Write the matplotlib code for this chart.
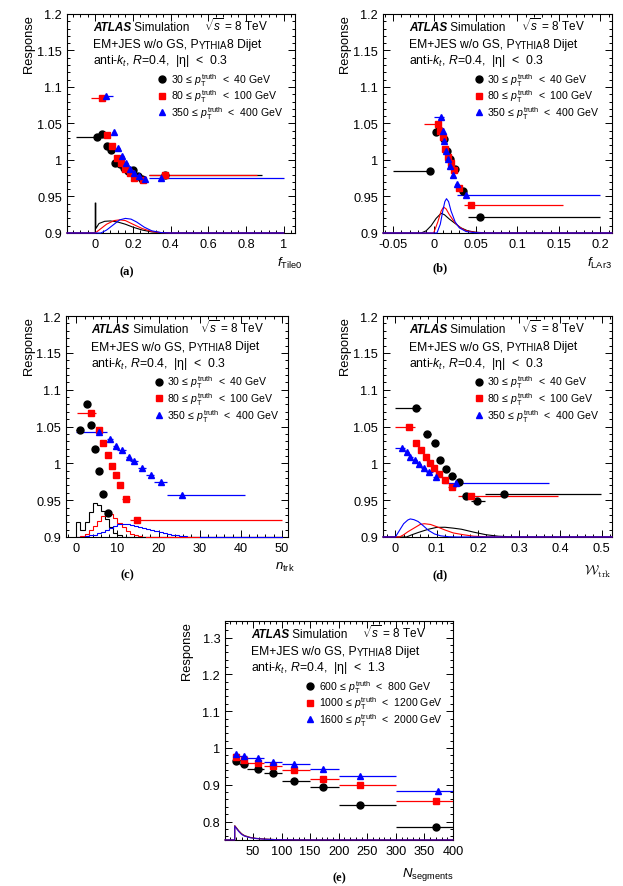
# -*- coding: utf-8 -*-

import matplotlib
matplotlib.use("Agg")
import matplotlib.pyplot as plt
from matplotlib.ticker import MultipleLocator, AutoMinorLocator, FuncFormatter

plt.rcParams["font.family"] = "Liberation Sans"
plt.rcParams["mathtext.fontset"] = "custom"
plt.rcParams["mathtext.rm"] = "Liberation Sans"
plt.rcParams["mathtext.it"] = "Liberation Sans:italic"
plt.rcParams["mathtext.bf"] = "Liberation Sans:bold"

# ---------------- (a) f_Tile0 ----------------
a_black_x = [0.008, 0.035, 0.06, 0.083, 0.105, 0.13, 0.152, 0.175, 0.2, 0.225, 0.25, 0.37]
a_black_y = [1.032, 1.0355, 1.019, 1.0135, 0.9955, 0.995, 0.989, 0.985, 0.986, 0.978, 0.974, 0.979]
a_black_lo = [-0.1, 0.025, 0.05, 0.073, 0.095, 0.12, 0.142, 0.165, 0.19, 0.215, 0.24, 0.283]
a_black_hi = [0.015, 0.045, 0.07, 0.093, 0.115, 0.14, 0.162, 0.185, 0.21, 0.235, 0.26, 0.885]
a_red_x = [0.035, 0.065, 0.09, 0.115, 0.135, 0.158, 0.182, 0.208, 0.255, 0.368]
a_red_y = [1.0855, 1.034, 1.019, 1.003, 0.996, 0.988, 0.982, 0.976, 0.973, 0.98]
a_red_lo = [-0.02, 0.055, 0.08, 0.105, 0.125, 0.148, 0.172, 0.198, 0.245, 0.283]
a_red_hi = [0.05, 0.075, 0.1, 0.125, 0.145, 0.168, 0.192, 0.218, 0.265, 0.86]
a_blue_x = [0.058, 0.097, 0.119, 0.142, 0.163, 0.182, 0.204, 0.23, 0.262, 0.35]
a_blue_y = [1.087, 1.038, 1.017, 1.005, 0.996, 0.988, 0.982, 0.978, 0.974, 0.975]
a_blue_lo = [0.03, 0.087, 0.109, 0.132, 0.153, 0.172, 0.194, 0.22, 0.252, 0.283]
a_blue_hi = [0.095, 0.107, 0.129, 0.152, 0.173, 0.192, 0.214, 0.24, 0.272, 1.0]
# normalised distributions drawn at the bottom
a_dist_black_x = [-0.15, 0.0, 0.0, 0.003, 0.003, 0.02, 0.05, 0.08, 0.12, 0.16, 0.2, 0.25, 0.3, 0.35, 0.4, 1.0]
a_dist_black_y = [0.9, 0.9, 0.941, 0.941, 0.906, 0.913, 0.916, 0.9165, 0.915, 0.912, 0.908, 0.904, 0.9015, 0.9005, 0.9, 0.9]
a_dist_red_x = [-0.15, 0.0, 0.03, 0.06, 0.1, 0.13, 0.16, 0.2, 0.25, 0.3, 0.35, 0.4, 1.0]
a_dist_red_y = [0.9, 0.9, 0.906, 0.912, 0.917, 0.918, 0.917, 0.912, 0.906, 0.902, 0.9005, 0.9, 0.9]
a_dist_blue_x = [-0.15, 0.03, 0.06, 0.1, 0.13, 0.16, 0.19, 0.22, 0.26, 0.3, 0.35, 0.4, 1.0]
a_dist_blue_y = [0.9, 0.9, 0.904, 0.912, 0.918, 0.92, 0.919, 0.915, 0.908, 0.903, 0.9005, 0.9, 0.9]

# ---------------- (b) f_LAr3 ----------------
b_black_x = [-0.005, 0.002, 0.006, 0.011, 0.015, 0.019, 0.025, 0.034, 0.055]
b_black_y = [0.985, 1.038, 1.041, 1.029, 1.012, 1.002, 0.987, 0.958, 0.922]
b_black_lo = [-0.05, 0.0, 0.004, 0.009, 0.013, 0.017, 0.023, 0.031, 0.04]
b_black_hi = [-0.002, 0.004, 0.008, 0.013, 0.017, 0.021, 0.027, 0.037, 0.2]
b_red_x = [0.004, 0.007, 0.010, 0.013, 0.016, 0.020, 0.024, 0.029, 0.044]
b_red_y = [1.049, 1.040, 1.032, 1.015, 1.004, 0.996, 0.986, 0.962, 0.939]
b_red_lo = [-0.013, 0.005, 0.008, 0.011, 0.014, 0.018, 0.022, 0.027, 0.035]
b_red_hi = [0.006, 0.009, 0.012, 0.015, 0.018, 0.022, 0.026, 0.031, 0.155]
b_blue_x = [0.008, 0.010, 0.012, 0.014, 0.016, 0.019, 0.022, 0.027, 0.038]
b_blue_y = [1.059, 1.040, 1.026, 1.013, 1.002, 0.992, 0.980, 0.967, 0.952]
b_blue_lo = [0.0, 0.009, 0.011, 0.013, 0.015, 0.018, 0.021, 0.025, 0.027]
b_blue_hi = [0.011, 0.011, 0.013, 0.015, 0.017, 0.020, 0.023, 0.029, 0.2]
b_dist_black_x = [-0.062, -0.016, -0.01, -0.004, 0.002, 0.008, 0.012, 0.018, 0.025, 0.032, 0.04, 0.05, 0.065, 0.214]
b_dist_black_y = [0.9, 0.9, 0.903, 0.91, 0.92, 0.927, 0.925, 0.919, 0.913, 0.907, 0.903, 0.901, 0.9, 0.9]
b_dist_red_x = [-0.062, -0.001, 0.004, 0.008, 0.011, 0.014, 0.018, 0.024, 0.03, 0.038, 0.048, 0.06, 0.214]
b_dist_red_y = [0.9, 0.9, 0.915, 0.93, 0.9355, 0.933, 0.925, 0.915, 0.908, 0.903, 0.901, 0.9, 0.9]
b_dist_blue_x = [-0.062, 0.003, 0.007, 0.010, 0.0125, 0.0145, 0.017, 0.02, 0.025, 0.03, 0.038, 0.048, 0.06, 0.214]
b_dist_blue_y = [0.9, 0.9, 0.912, 0.93, 0.943, 0.947, 0.943, 0.93, 0.915, 0.907, 0.902, 0.9005, 0.9, 0.9]

# ---------------- (c) n_trk ----------------
c_black_x = [0.8, 2.6, 3.6, 4.6, 5.6, 6.6, 7.7]
c_black_y = [1.0455, 1.08, 1.052, 1.019, 0.99, 0.959, 0.932]
c_black_lo = [0.0, 2.0, 3.0, 4.0, 5.0, 6.0, 7.0]
c_black_hi = [1.5, 3.0, 4.0, 5.0, 6.0, 7.0, 8.0]
c_red_x = [3.6, 5.6, 6.6, 7.7, 8.6, 9.7, 10.6, 12.1, 14.7]
c_red_y = [1.069, 1.045, 1.027, 1.011, 0.997, 0.984, 0.970, 0.952, 0.923]
c_red_lo = [0.2, 5.0, 6.0, 7.0, 8.0, 9.0, 10.0, 11.0, 13.0]
c_red_hi = [4.9, 6.0, 7.0, 8.0, 9.0, 10.0, 11.0, 13.0, 50.0]
c_blue_x = [5.4, 8.2, 9.6, 11.0, 12.7, 14.0, 16.0, 18.1, 20.5, 25.6]
c_blue_y = [1.043, 1.033, 1.024, 1.018, 1.009, 1.003, 0.993, 0.984, 0.975, 0.957]
c_blue_lo = [0.0, 7.5, 9.0, 10.0, 12.0, 13.0, 15.0, 17.0, 19.0, 22.0]
c_blue_hi = [7.5, 9.0, 10.0, 12.0, 13.0, 15.0, 17.0, 19.0, 22.0, 41.0]
# step histograms, unit bins starting at 0
c_hist_black = [0.92, 0.91, 0.921, 0.934, 0.946, 0.943, 0.935, 0.925, 0.914, 0.906, 0.902, 0.9]
c_hist_red = [0.9, 0.901, 0.904, 0.909, 0.915, 0.922, 0.929, 0.932, 0.931, 0.926, 0.919, 0.913,
              0.908, 0.904, 0.902, 0.901, 0.9]
c_hist_blue = [0.9, 0.9005, 0.901, 0.902, 0.903, 0.905, 0.907, 0.909, 0.912, 0.915, 0.917, 0.9175,
               0.917, 0.9165, 0.9155, 0.914, 0.9125, 0.911, 0.9095, 0.908, 0.9065, 0.905, 0.904,
               0.903, 0.902, 0.9013, 0.9008, 0.9005, 0.9002, 0.9]

# ---------------- (d) W_trk ----------------
d_black_x = [0.049, 0.077, 0.095, 0.109, 0.123, 0.138, 0.154, 0.17, 0.198, 0.263]
d_black_y = [1.075, 1.04, 1.027, 1.0045, 0.992, 0.983, 0.975, 0.955, 0.949, 0.959]
d_black_lo = [0.0, 0.067, 0.087, 0.101, 0.116, 0.131, 0.146, 0.162, 0.184, 0.217]
d_black_hi = [0.063, 0.087, 0.101, 0.116, 0.131, 0.146, 0.162, 0.184, 0.216, 0.498]
d_red_x = [0.032, 0.051, 0.063, 0.073, 0.083, 0.093, 0.106, 0.119, 0.137, 0.184]
d_red_y = [1.049, 1.028, 1.018, 1.0086, 1.001, 0.993, 0.985, 0.978, 0.968, 0.955]
d_red_lo = [0.0, 0.047, 0.058, 0.068, 0.078, 0.088, 0.1, 0.113, 0.128, 0.152]
d_red_hi = [0.047, 0.058, 0.068, 0.078, 0.088, 0.1, 0.113, 0.128, 0.146, 0.394]
d_blue_x = [0.016, 0.028, 0.036, 0.047, 0.057, 0.069, 0.081, 0.099, 0.148]
d_blue_y = [1.021, 1.015, 1.009, 1.004, 0.9985, 0.993, 0.988, 0.982, 0.973]
d_blue_lo = [0.0, 0.024, 0.032, 0.042, 0.052, 0.063, 0.075, 0.09, 0.115]
d_blue_hi = [0.024, 0.032, 0.042, 0.052, 0.063, 0.075, 0.09, 0.108, 0.373]
d_dist_black_x = [-0.03, 0.027, 0.04, 0.055, 0.08, 0.1, 0.12, 0.14, 0.16, 0.19, 0.22, 0.25, 0.29, 0.525]
d_dist_black_y = [0.9, 0.9, 0.903, 0.906, 0.9105, 0.913, 0.9132, 0.912, 0.9105, 0.9065, 0.903, 0.901, 0.9, 0.9]
d_dist_red_x = [-0.03, 0.01, 0.02, 0.03, 0.045, 0.06, 0.07, 0.085, 0.1, 0.12, 0.14, 0.165, 0.19, 0.22, 0.26, 0.525]
d_dist_red_y = [0.9, 0.9, 0.903, 0.907, 0.912, 0.917, 0.918, 0.917, 0.914, 0.9095, 0.9055, 0.903, 0.901, 0.9003, 0.9, 0.9]
d_dist_blue_x = [-0.03, 0.0, 0.01, 0.02, 0.03, 0.036, 0.045, 0.055, 0.067, 0.08, 0.095, 0.11, 0.13, 0.15, 0.525]
d_dist_blue_y = [0.9, 0.9, 0.909, 0.918, 0.923, 0.9245, 0.9235, 0.921, 0.9155, 0.909, 0.904, 0.9015, 0.9003, 0.9, 0.9]

# ---------------- (e) N_segments ----------------
e_lo = [15, 25, 40, 70, 100, 150, 200, 300]
e_hi = [25, 40, 70, 100, 150, 200, 300, 400]
e_black_x = [20.6, 34, 58.8, 85.3, 121.8, 171.8, 238, 370.6]
e_black_y = [0.965, 0.957, 0.942, 0.932, 0.911, 0.893, 0.846, 0.786]
e_red_x = [20.6, 34, 58.8, 85.3, 121.8, 171.8, 238, 369.4]
e_red_y = [0.975, 0.967, 0.958, 0.9505, 0.939, 0.9156, 0.9, 0.855]
e_blue_x = [20.6, 34, 58.8, 85.3, 121.8, 171.8, 238, 373.5]
e_blue_y = [0.9826, 0.979, 0.9716, 0.962, 0.956, 0.942, 0.923, 0.882]
e_dist_x = [1, 18, 18, 20, 25, 30, 35, 45, 55, 70, 90, 120, 160, 400]
e_dist_black_y = [0.75, 0.75, 0.789, 0.785, 0.775, 0.767, 0.762, 0.757, 0.7545, 0.7525, 0.751, 0.7503, 0.75, 0.75]
e_dist_red_y = [0.75, 0.75, 0.788, 0.784, 0.774, 0.766, 0.761, 0.7565, 0.754, 0.7522, 0.751, 0.7503, 0.75, 0.75]
e_dist_blue_y = [0.75, 0.75, 0.787, 0.783, 0.773, 0.765, 0.7605, 0.756, 0.7538, 0.752, 0.7508, 0.7502, 0.75, 0.75]

low_labels = [("30", "40"), ("80", "100"), ("350", "400")]
high_labels = [("600", "800"), ("1000", "1200"), ("1600", "2000")]

BLACK = "black"
RED = "#ff0000"
BLUE = "#0000ff"
MARKERS = [("o", BLACK, 5.0), ("s", RED, 4.8), ("^", BLUE, 4.8)]


def style_axes(ax, xlim, ylim, xmajor, ymajor):
    ax.set_xlim(xlim)
    ax.set_ylim(ylim)
    ax.xaxis.set_major_locator(MultipleLocator(xmajor))
    ax.yaxis.set_major_locator(MultipleLocator(ymajor))
    ax.xaxis.set_minor_locator(AutoMinorLocator(5))
    ax.yaxis.set_minor_locator(AutoMinorLocator(5))
    fmt = FuncFormatter(lambda v, p: "%g" % round(v, 6))
    ax.xaxis.set_major_formatter(fmt)
    ax.yaxis.set_major_formatter(fmt)
    ax.tick_params(which="both", direction="in", top=True, right=True, labelsize=9.2, width=0.7)
    ax.tick_params(which="major", length=5, pad=3.5)
    ax.tick_params(which="minor", length=2.5)
    for s in ax.spines.values():
        s.set_linewidth(0.8)
    ax.text(-0.165, 1.0, "Response", transform=ax.transAxes, rotation=90,
            ha="center", va="top", fontsize=9.3)


def draw_points(ax, series):
    for (x, y, lo, hi), (m, c, ms) in zip(series, MARKERS):
        xerr = [[xi - l for xi, l in zip(x, lo)], [h - xi for xi, h in zip(x, hi)]]
        ax.errorbar(x, y, xerr=xerr, fmt=m, color=c, ms=ms, elinewidth=0.9,
                    capsize=0, zorder=4)


def draw_text(ax, eta, labels, mx=0.418, tx=0.455):
    t = ax.text(0.114, 0.927, "ATLAS", transform=ax.transAxes, fontsize=8.5,
                fontweight="bold", fontstyle="italic", va="baseline")
    ax.annotate(" Simulation", xy=(1, 0), xycoords=t, va="bottom", fontsize=8.5)
    ax.text(0.602, 0.927, r"$\sqrt{s}$ = 8 TeV", transform=ax.transAxes,
            fontsize=8.5, va="baseline")
    t = ax.text(0.114, 0.851, "EM+JES w/o GS, P", transform=ax.transAxes,
                fontsize=8.7, va="baseline")
    t = ax.annotate("YTHIA", xy=(1, 0), xycoords=t, va="bottom", fontsize=7.0)
    ax.annotate("8 Dijet", xy=(1, 0), xycoords=t, va="bottom", fontsize=8.7)
    ax.text(0.114, 0.776, r"anti-$k_{t}$, $R$=0.4,  |η|  <  " + eta,
            transform=ax.transAxes, fontsize=8.8, va="baseline")
    rows = [0.703, 0.627, 0.551]
    for (lo, hi), (m, c, ms), yr in zip(labels, MARKERS, rows):
        ax.plot([mx], [yr], m, color=c, ms=ms, transform=ax.transAxes, clip_on=False)
        ax.text(tx, yr - 0.016,
                lo + r"$\,\leq\,p_{\mathrm{T}}^{\mathrm{truth}}$  <  " + hi + " GeV",
                transform=ax.transAxes, fontsize=7.6, va="baseline")


fig = plt.figure(figsize=(6.23, 8.87), dpi=100)
ax_a = fig.add_axes([0.1075, 0.7362, 0.366, 0.2469])
ax_b = fig.add_axes([0.6148, 0.7362, 0.3676, 0.2469])
ax_c = fig.add_axes([0.106, 0.3935, 0.3563, 0.249])
ax_d = fig.add_axes([0.6148, 0.3935, 0.3676, 0.249])
ax_e = fig.add_axes([0.3612, 0.0519, 0.366, 0.2469])

# (a)
style_axes(ax_a, (-0.15, 1.06), (0.9, 1.2), 0.2, 0.05)
for x, y, c in [(a_dist_black_x, a_dist_black_y, BLACK), (a_dist_red_x, a_dist_red_y, RED),
                (a_dist_blue_x, a_dist_blue_y, BLUE)]:
    ax_a.plot(x, y, color=c, lw=0.8, clip_on=False, zorder=3)
draw_points(ax_a, [(a_black_x, a_black_y, a_black_lo, a_black_hi),
                   (a_red_x, a_red_y, a_red_lo, a_red_hi),
                   (a_blue_x, a_blue_y, a_blue_lo, a_blue_hi)])
draw_text(ax_a, "0.3", low_labels)
ax_a.text(1.035, -0.135, r"$f_{\mathrm{Tile0}}$", transform=ax_a.transAxes,
          ha="right", va="center", fontsize=9.5)

# (b)
style_axes(ax_b, (-0.062, 0.214), (0.9, 1.2), 0.05, 0.05)
for x, y, c in [(b_dist_black_x, b_dist_black_y, BLACK), (b_dist_red_x, b_dist_red_y, RED),
                (b_dist_blue_x, b_dist_blue_y, BLUE)]:
    ax_b.plot(x, y, color=c, lw=0.8, clip_on=False, zorder=3)
draw_points(ax_b, [(b_black_x, b_black_y, b_black_lo, b_black_hi),
                   (b_red_x, b_red_y, b_red_lo, b_red_hi),
                   (b_blue_x, b_blue_y, b_blue_lo, b_blue_hi)])
draw_text(ax_b, "0.3", low_labels)
ax_b.text(1.0, -0.135, r"$f_{\mathrm{LAr3}}$", transform=ax_b.transAxes,
          ha="right", va="center", fontsize=9.5)

# (c)
style_axes(ax_c, (-2.5, 51.5), (0.9, 1.2), 10, 0.05)
for vals, c in [(c_hist_black, BLACK), (c_hist_red, RED), (c_hist_blue, BLUE)]:
    edges = list(range(len(vals) + 1))
    ax_c.stairs(vals, edges, baseline=0.9, color=c, lw=0.8, zorder=3)
    ax_c.plot([edges[-1], 50], [0.9, 0.9], color=c, lw=0.8, clip_on=False, zorder=3)
draw_points(ax_c, [(c_black_x, c_black_y, c_black_lo, c_black_hi),
                   (c_red_x, c_red_y, c_red_lo, c_red_hi),
                   (c_blue_x, c_blue_y, c_blue_lo, c_blue_hi)])
draw_text(ax_c, "0.3", low_labels)
ax_c.text(1.03, -0.135, r"$n_{\mathrm{trk}}$", transform=ax_c.transAxes,
          ha="right", va="center", fontsize=9.5)

# (d)
style_axes(ax_d, (-0.03, 0.525), (0.9, 1.2), 0.1, 0.05)
for x, y, c in [(d_dist_black_x, d_dist_black_y, BLACK), (d_dist_red_x, d_dist_red_y, RED),
                (d_dist_blue_x, d_dist_blue_y, BLUE)]:
    ax_d.plot(x, y, color=c, lw=0.8, clip_on=False, zorder=3)
draw_points(ax_d, [(d_black_x, d_black_y, d_black_lo, d_black_hi),
                   (d_red_x, d_red_y, d_red_lo, d_red_hi),
                   (d_blue_x, d_blue_y, d_blue_lo, d_blue_hi)])
draw_text(ax_d, "0.3", low_labels)
ax_d.text(1.0, -0.155, r"$\mathcal{W}_{\mathrm{trk}}$", transform=ax_d.transAxes,
          ha="right", va="center", fontsize=9.5, math_fontfamily="cm")

# (e)
style_axes(ax_e, (1, 400), (0.75, 1.345), 50, 0.1)
for y, c in [(e_dist_black_y, BLACK), (e_dist_red_y, RED), (e_dist_blue_y, BLUE)]:
    ax_e.plot(e_dist_x, y, color=c, lw=0.8, clip_on=False, zorder=3, alpha=0.8)
draw_points(ax_e, [(e_black_x, e_black_y, e_lo, e_hi),
                   (e_red_x, e_red_y, e_lo, e_hi),
                   (e_blue_x, e_blue_y, e_lo, e_hi)])
draw_text(ax_e, "1.3", high_labels, mx=0.373, tx=0.41)
ax_e.text(1.0, -0.155, r"$N_{\mathrm{segments}}$", transform=ax_e.transAxes,
          ha="right", va="center", fontsize=9.5)

# panel letters
for x, y, s in [(127, 272, "(a)"), (440, 268, "(b)"), (127, 575, "(c)"),
                (440, 575, "(d)"), (339, 878, "(e)")]:
    fig.text(x / 623, 1 - y / 887, s, ha="center", va="center", fontsize=9,
             fontweight="bold", family="Liberation Serif")

fig.savefig("out.png", dpi=100)
